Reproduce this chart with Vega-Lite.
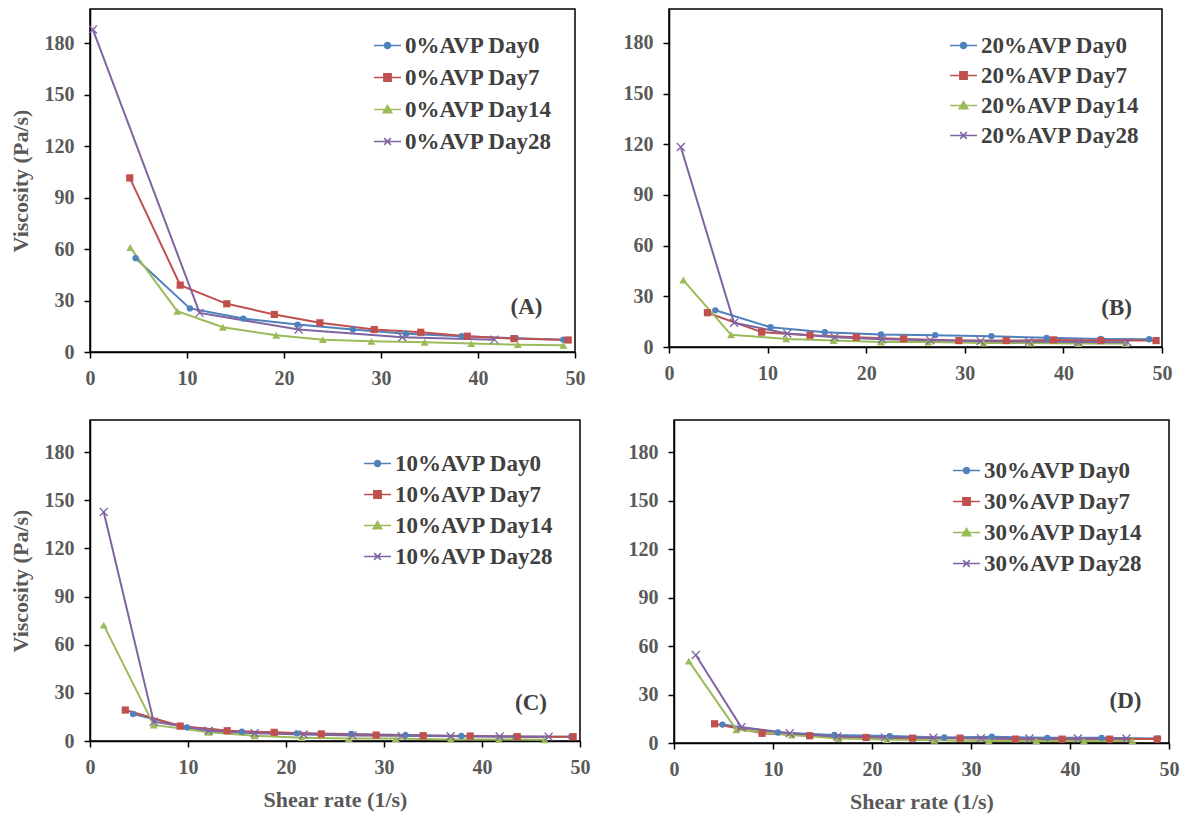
{
  "$schema": "https://vega.github.io/schema/vega-lite/v6.json",
  "background": "white",
  "padding": {"left": 8, "top": 8, "right": 0, "bottom": 0},
  "config": {
    "font": "Liberation Serif",
    "view": {"stroke": "black", "strokeWidth": 1.5},
    "axis": {
      "grid": false,
      "labelFont": "Liberation Serif", "labelFontSize": 20, "labelFontWeight": "bold", "labelColor": "#595959",
      "titleFont": "Liberation Serif", "titleFontSize": 22, "titleFontWeight": "bold", "titleColor": "#595959",
      "domainColor": "black", "domainWidth": 1.5, "tickColor": "black", "tickWidth": 1.5, "tickSize": 6,
      "labelFlush": false, "labelPadding": 10, "titlePadding": 12
    },
    "legend": {
      "orient": "top-right", "offset": 22, "padding": 0, "title": null,
      "labelFont": "Liberation Serif", "labelFontSize": 23, "labelFontWeight": "bold", "labelColor": "#404040",
      "symbolSize": 729, "rowPadding": 5, "labelOffset": 3
    }
  },
  "spacing": 30,
  "resolve": {"scale": {"color": "independent", "shape": "independent", "size": "independent"}, "legend": {"color": "independent"}},
  "vconcat": [
    {
      "spacing": 36,
      "resolve": {"scale": {"color": "independent", "shape": "independent", "size": "independent"}, "legend": {"color": "independent"}},
      "hconcat": [
        {
          "width": 485, "height": 343,
          "data": {"values": [
            {"d": "Day0", "x": 4.7, "y": 54.7}, {"d": "Day0", "x": 10.3, "y": 25.4}, {"d": "Day0", "x": 15.8, "y": 19.5}, {"d": "Day0", "x": 21.4, "y": 16.0}, {"d": "Day0", "x": 27.1, "y": 13.1}, {"d": "Day0", "x": 32.6, "y": 10.7}, {"d": "Day0", "x": 38.3, "y": 9.2}, {"d": "Day0", "x": 43.9, "y": 8.0}, {"d": "Day0", "x": 48.8, "y": 7.2},
            {"d": "Day7", "x": 4.1, "y": 101.5}, {"d": "Day7", "x": 9.3, "y": 39.0}, {"d": "Day7", "x": 14.1, "y": 28.1}, {"d": "Day7", "x": 19.0, "y": 21.9}, {"d": "Day7", "x": 23.7, "y": 17.0}, {"d": "Day7", "x": 29.3, "y": 13.1}, {"d": "Day7", "x": 34.1, "y": 11.5}, {"d": "Day7", "x": 38.9, "y": 9.2}, {"d": "Day7", "x": 43.7, "y": 7.8}, {"d": "Day7", "x": 49.3, "y": 7.0},
            {"d": "Day14", "x": 4.15, "y": 60.9}, {"d": "Day14", "x": 9.0, "y": 23.8}, {"d": "Day14", "x": 13.7, "y": 14.4}, {"d": "Day14", "x": 19.2, "y": 9.8}, {"d": "Day14", "x": 24.0, "y": 7.2}, {"d": "Day14", "x": 29.0, "y": 6.2}, {"d": "Day14", "x": 34.5, "y": 5.7}, {"d": "Day14", "x": 39.3, "y": 4.9}, {"d": "Day14", "x": 44.1, "y": 4.3}, {"d": "Day14", "x": 48.8, "y": 3.9},
            {"d": "Day28", "x": 0.3, "y": 188}, {"d": "Day28", "x": 11.3, "y": 22.8}, {"d": "Day28", "x": 21.5, "y": 13.1}, {"d": "Day28", "x": 32.2, "y": 8.6}, {"d": "Day28", "x": 41.7, "y": 7.2}
          ]},
          "encoding": {
            "x": {"field": "x", "type": "quantitative", "scale": {"domain": [0, 50], "nice": false}, "axis": {"values": [0, 10, 20, 30, 40, 50], "title": null}},
            "y": {"field": "y", "type": "quantitative", "scale": {"domain": [0, 200], "nice": false}, "axis": {"values": [0, 30, 60, 90, 120, 150, 180], "title": "Viscosity (Pa/s)", "titlePadding": 12}}
          },
          "layer": [
            {"mark": {"type": "line", "strokeWidth": 2, "clip": true},
             "encoding": {"color": {"field": "d", "type": "nominal", "scale": {"domain": ["Day0", "Day7", "Day14", "Day28"], "range": ["#4F81BD", "#C0504D", "#9BBB59", "#8064A2"]},
               "legend": {"labelExpr": "'0%AVP ' + datum.label", "rowPadding": 5, "encode": {"symbols": {"update": {
                 "shape": {"signal": "['M-1,0H1M-0.22,0A0.22,0.22 0 1 1 0.22,0A0.22,0.22 0 1 1 -0.22,0Z','M-1,0H1M-0.27,-0.27H0.27V0.27H-0.27Z','M-1,0H1M0,-0.3L0.32,0.24H-0.32Z','M-1,0H1M-0.25,-0.25L0.25,0.25M-0.25,0.25L0.25,-0.25'][datum.index]"},
                 "fill": {"signal": "['#4F81BD','#C0504D','#9BBB59','transparent'][datum.index]"},
                 "stroke": {"signal": "['#4F81BD','#C0504D','#9BBB59','#8064A2'][datum.index]"},
                 "strokeWidth": {"value": 1.5}, "size": {"value": 729}, "opacity": {"value": 1}}}}}}}},
            {"transform": [{"filter": "datum.d != 'Day28'"}],
             "mark": {"type": "point", "filled": true, "opacity": 1},
             "encoding": {"color": {"field": "d", "type": "nominal"},
               "shape": {"field": "d", "type": "nominal", "scale": {"domain": ["Day0", "Day7", "Day14"], "range": ["circle", "square", "triangle-up"]}, "legend": null},
               "size": {"field": "d", "type": "ordinal", "scale": {"domain": ["Day0", "Day7", "Day14"], "range": [40, 64, 70]}, "legend": null}}},
            {"transform": [{"filter": "datum.d == 'Day28'"}],
             "mark": {"type": "point", "shape": "M-1,-1L1,1M-1,1L1,-1", "filled": false, "strokeWidth": 1.3, "size": 64, "opacity": 1},
             "encoding": {"color": {"field": "d", "type": "nominal"}}},
            {"data": {"values": [{"x": 45, "y": 26, "t": "(A)"}]},
             "mark": {"type": "text", "font": "Liberation Serif", "fontSize": 23, "fontWeight": "bold", "color": "#404040"},
             "encoding": {"text": {"field": "t"}}}
          ]
        },
        {
          "width": 493, "height": 338,
          "data": {"values": [
            {"d": "Day0", "x": 4.7, "y": 21.7}, {"d": "Day0", "x": 10.3, "y": 11.7}, {"d": "Day0", "x": 15.8, "y": 8.8}, {"d": "Day0", "x": 21.5, "y": 7.4}, {"d": "Day0", "x": 27.0, "y": 7.0}, {"d": "Day0", "x": 32.7, "y": 6.4}, {"d": "Day0", "x": 38.3, "y": 5.4}, {"d": "Day0", "x": 43.8, "y": 4.8}, {"d": "Day0", "x": 48.7, "y": 4.6},
            {"d": "Day7", "x": 3.9, "y": 20.3}, {"d": "Day7", "x": 9.4, "y": 8.8}, {"d": "Day7", "x": 14.3, "y": 7.0}, {"d": "Day7", "x": 19.0, "y": 5.8}, {"d": "Day7", "x": 23.8, "y": 4.8}, {"d": "Day7", "x": 29.4, "y": 3.8}, {"d": "Day7", "x": 34.2, "y": 3.8}, {"d": "Day7", "x": 39.0, "y": 4.2}, {"d": "Day7", "x": 43.8, "y": 3.8}, {"d": "Day7", "x": 49.4, "y": 3.8},
            {"d": "Day14", "x": 1.45, "y": 39.6}, {"d": "Day14", "x": 6.3, "y": 7.2}, {"d": "Day14", "x": 11.9, "y": 4.8}, {"d": "Day14", "x": 16.7, "y": 3.8}, {"d": "Day14", "x": 21.5, "y": 3.0}, {"d": "Day14", "x": 26.3, "y": 3.0}, {"d": "Day14", "x": 31.9, "y": 2.4}, {"d": "Day14", "x": 36.7, "y": 2.4}, {"d": "Day14", "x": 41.5, "y": 2.0}, {"d": "Day14", "x": 46.3, "y": 2.0},
            {"d": "Day28", "x": 1.2, "y": 118.3}, {"d": "Day28", "x": 6.6, "y": 14.3}, {"d": "Day28", "x": 12.0, "y": 8.0}, {"d": "Day28", "x": 16.8, "y": 5.8}, {"d": "Day28", "x": 21.6, "y": 4.6}, {"d": "Day28", "x": 26.5, "y": 4.0}, {"d": "Day28", "x": 31.6, "y": 3.5}, {"d": "Day28", "x": 36.5, "y": 3.2}, {"d": "Day28", "x": 41.5, "y": 3.0}, {"d": "Day28", "x": 46.5, "y": 2.8}
          ]},
          "encoding": {
            "x": {"field": "x", "type": "quantitative", "scale": {"domain": [0, 50], "nice": false}, "axis": {"values": [0, 10, 20, 30, 40, 50], "title": null}},
            "y": {"field": "y", "type": "quantitative", "scale": {"domain": [0, 200], "nice": false}, "axis": {"values": [0, 30, 60, 90, 120, 150, 180], "title": null}}
          },
          "layer": [
            {"mark": {"type": "line", "strokeWidth": 2, "clip": true},
             "encoding": {"color": {"field": "d", "type": "nominal", "scale": {"domain": ["Day0", "Day7", "Day14", "Day28"], "range": ["#4F81BD", "#C0504D", "#9BBB59", "#8064A2"]},
               "legend": {"labelExpr": "'20%AVP ' + datum.label", "rowPadding": 3, "encode": {"symbols": {"update": {
                 "shape": {"signal": "['M-1,0H1M-0.22,0A0.22,0.22 0 1 1 0.22,0A0.22,0.22 0 1 1 -0.22,0Z','M-1,0H1M-0.27,-0.27H0.27V0.27H-0.27Z','M-1,0H1M0,-0.3L0.32,0.24H-0.32Z','M-1,0H1M-0.25,-0.25L0.25,0.25M-0.25,0.25L0.25,-0.25'][datum.index]"},
                 "fill": {"signal": "['#4F81BD','#C0504D','#9BBB59','transparent'][datum.index]"},
                 "stroke": {"signal": "['#4F81BD','#C0504D','#9BBB59','#8064A2'][datum.index]"},
                 "strokeWidth": {"value": 1.5}, "size": {"value": 729}, "opacity": {"value": 1}}}}}}}},
            {"transform": [{"filter": "datum.d != 'Day28'"}],
             "mark": {"type": "point", "filled": true, "opacity": 1},
             "encoding": {"color": {"field": "d", "type": "nominal"},
               "shape": {"field": "d", "type": "nominal", "scale": {"domain": ["Day0", "Day7", "Day14"], "range": ["circle", "square", "triangle-up"]}, "legend": null},
               "size": {"field": "d", "type": "ordinal", "scale": {"domain": ["Day0", "Day7", "Day14"], "range": [40, 64, 70]}, "legend": null}}},
            {"transform": [{"filter": "datum.d == 'Day28'"}],
             "mark": {"type": "point", "shape": "M-1,-1L1,1M-1,1L1,-1", "filled": false, "strokeWidth": 1.3, "size": 64, "opacity": 1},
             "encoding": {"color": {"field": "d", "type": "nominal"}}},
            {"data": {"values": [{"x": 45.4, "y": 23.3, "t": "(B)"}]},
             "mark": {"type": "text", "font": "Liberation Serif", "fontSize": 23, "fontWeight": "bold", "color": "#404040"},
             "encoding": {"text": {"field": "t"}}}
          ]
        }
      ]
    },
    {
      "spacing": 36,
      "resolve": {"scale": {"color": "independent", "shape": "independent", "size": "independent"}, "legend": {"color": "independent"}},
      "hconcat": [
        {
          "width": 490, "height": 321,
          "data": {"values": [
            {"d": "Day0", "x": 4.4, "y": 16.8}, {"d": "Day0", "x": 9.9, "y": 8.5}, {"d": "Day0", "x": 15.5, "y": 5.8}, {"d": "Day0", "x": 21.1, "y": 4.8}, {"d": "Day0", "x": 26.7, "y": 4.4}, {"d": "Day0", "x": 32.2, "y": 3.7}, {"d": "Day0", "x": 37.9, "y": 3.1}, {"d": "Day0", "x": 43.4, "y": 2.7}, {"d": "Day0", "x": 49.1, "y": 2.7},
            {"d": "Day7", "x": 3.6, "y": 19.3}, {"d": "Day7", "x": 9.2, "y": 9.3}, {"d": "Day7", "x": 14.0, "y": 6.4}, {"d": "Day7", "x": 18.8, "y": 5.4}, {"d": "Day7", "x": 23.6, "y": 4.4}, {"d": "Day7", "x": 29.2, "y": 3.7}, {"d": "Day7", "x": 34.0, "y": 3.3}, {"d": "Day7", "x": 38.8, "y": 3.1}, {"d": "Day7", "x": 43.6, "y": 2.7}, {"d": "Day7", "x": 49.3, "y": 2.7},
            {"d": "Day14", "x": 1.4, "y": 72.2}, {"d": "Day14", "x": 6.5, "y": 10.0}, {"d": "Day14", "x": 12.1, "y": 5.4}, {"d": "Day14", "x": 16.8, "y": 3.3}, {"d": "Day14", "x": 21.6, "y": 2.1}, {"d": "Day14", "x": 26.4, "y": 1.5}, {"d": "Day14", "x": 31.2, "y": 1.5}, {"d": "Day14", "x": 36.8, "y": 1.0}, {"d": "Day14", "x": 41.7, "y": 1.0}, {"d": "Day14", "x": 46.4, "y": 0.8},
            {"d": "Day28", "x": 1.4, "y": 142.7}, {"d": "Day28", "x": 6.5, "y": 12.0}, {"d": "Day28", "x": 12.1, "y": 6.4}, {"d": "Day28", "x": 16.8, "y": 4.8}, {"d": "Day28", "x": 21.8, "y": 4.0}, {"d": "Day28", "x": 26.8, "y": 3.5}, {"d": "Day28", "x": 31.8, "y": 3.2}, {"d": "Day28", "x": 36.8, "y": 3.0}, {"d": "Day28", "x": 41.8, "y": 2.8}, {"d": "Day28", "x": 46.8, "y": 2.6}
          ]},
          "encoding": {
            "x": {"field": "x", "type": "quantitative", "scale": {"domain": [0, 50], "nice": false}, "axis": {"values": [0, 10, 20, 30, 40, 50], "title": "Shear rate (1/s)", "titlePadding": 12}},
            "y": {"field": "y", "type": "quantitative", "scale": {"domain": [0, 200], "nice": false}, "axis": {"values": [0, 30, 60, 90, 120, 150, 180], "title": "Viscosity (Pa/s)", "titlePadding": 12}}
          },
          "layer": [
            {"mark": {"type": "line", "strokeWidth": 2, "clip": true},
             "encoding": {"color": {"field": "d", "type": "nominal", "scale": {"domain": ["Day0", "Day7", "Day14", "Day28"], "range": ["#4F81BD", "#C0504D", "#9BBB59", "#8064A2"]},
               "legend": {"labelExpr": "'10%AVP ' + datum.label", "orient": "none", "legendX": 273, "legendY": 29, "rowPadding": 4, "encode": {"symbols": {"update": {
                 "shape": {"signal": "['M-1,0H1M-0.22,0A0.22,0.22 0 1 1 0.22,0A0.22,0.22 0 1 1 -0.22,0Z','M-1,0H1M-0.27,-0.27H0.27V0.27H-0.27Z','M-1,0H1M0,-0.3L0.32,0.24H-0.32Z','M-1,0H1M-0.25,-0.25L0.25,0.25M-0.25,0.25L0.25,-0.25'][datum.index]"},
                 "fill": {"signal": "['#4F81BD','#C0504D','#9BBB59','transparent'][datum.index]"},
                 "stroke": {"signal": "['#4F81BD','#C0504D','#9BBB59','#8064A2'][datum.index]"},
                 "strokeWidth": {"value": 1.5}, "size": {"value": 729}, "opacity": {"value": 1}}}}}}}},
            {"transform": [{"filter": "datum.d != 'Day28'"}],
             "mark": {"type": "point", "filled": true, "opacity": 1},
             "encoding": {"color": {"field": "d", "type": "nominal"},
               "shape": {"field": "d", "type": "nominal", "scale": {"domain": ["Day0", "Day7", "Day14"], "range": ["circle", "square", "triangle-up"]}, "legend": null},
               "size": {"field": "d", "type": "ordinal", "scale": {"domain": ["Day0", "Day7", "Day14"], "range": [40, 64, 70]}, "legend": null}}},
            {"transform": [{"filter": "datum.d == 'Day28'"}],
             "mark": {"type": "point", "shape": "M-1,-1L1,1M-1,1L1,-1", "filled": false, "strokeWidth": 1.3, "size": 64, "opacity": 1},
             "encoding": {"color": {"field": "d", "type": "nominal"}}},
            {"data": {"values": [{"x": 45, "y": 23.4, "t": "(C)"}]},
             "mark": {"type": "text", "font": "Liberation Serif", "fontSize": 23, "fontWeight": "bold", "color": "#404040"},
             "encoding": {"text": {"field": "t"}}}
          ]
        },
        {
          "width": 495, "height": 323,
          "data": {"values": [
            {"d": "Day0", "x": 4.9, "y": 11.4}, {"d": "Day0", "x": 10.5, "y": 6.5}, {"d": "Day0", "x": 16.2, "y": 5.0}, {"d": "Day0", "x": 21.8, "y": 4.3}, {"d": "Day0", "x": 27.3, "y": 3.4}, {"d": "Day0", "x": 32.1, "y": 3.9}, {"d": "Day0", "x": 37.7, "y": 3.2}, {"d": "Day0", "x": 43.2, "y": 3.2}, {"d": "Day0", "x": 48.9, "y": 2.8},
            {"d": "Day7", "x": 4.1, "y": 11.9}, {"d": "Day7", "x": 8.9, "y": 6.0}, {"d": "Day7", "x": 13.7, "y": 4.5}, {"d": "Day7", "x": 19.4, "y": 3.4}, {"d": "Day7", "x": 24.1, "y": 3.0}, {"d": "Day7", "x": 28.9, "y": 3.0}, {"d": "Day7", "x": 34.5, "y": 2.4}, {"d": "Day7", "x": 39.2, "y": 2.4}, {"d": "Day7", "x": 44.0, "y": 2.4}, {"d": "Day7", "x": 48.8, "y": 2.4},
            {"d": "Day14", "x": 1.5, "y": 50.7}, {"d": "Day14", "x": 6.3, "y": 8.2}, {"d": "Day14", "x": 11.9, "y": 5.0}, {"d": "Day14", "x": 16.6, "y": 2.8}, {"d": "Day14", "x": 21.5, "y": 2.2}, {"d": "Day14", "x": 26.3, "y": 1.7}, {"d": "Day14", "x": 31.8, "y": 1.3}, {"d": "Day14", "x": 36.6, "y": 1.3}, {"d": "Day14", "x": 41.4, "y": 1.3}, {"d": "Day14", "x": 46.3, "y": 1.3},
            {"d": "Day28", "x": 2.2, "y": 54.5}, {"d": "Day28", "x": 6.8, "y": 9.7}, {"d": "Day28", "x": 11.7, "y": 6.0}, {"d": "Day28", "x": 16.5, "y": 4.0}, {"d": "Day28", "x": 21.3, "y": 3.5}, {"d": "Day28", "x": 26.2, "y": 3.2}, {"d": "Day28", "x": 31.0, "y": 3.0}, {"d": "Day28", "x": 35.9, "y": 2.8}, {"d": "Day28", "x": 40.8, "y": 2.8}, {"d": "Day28", "x": 45.7, "y": 2.8}
          ]},
          "encoding": {
            "x": {"field": "x", "type": "quantitative", "scale": {"domain": [0, 50], "nice": false}, "axis": {"values": [0, 10, 20, 30, 40, 50], "title": "Shear rate (1/s)", "titlePadding": 12}},
            "y": {"field": "y", "type": "quantitative", "scale": {"domain": [0, 200], "nice": false}, "axis": {"values": [0, 30, 60, 90, 120, 150, 180], "title": null}}
          },
          "layer": [
            {"mark": {"type": "line", "strokeWidth": 2, "clip": true},
             "encoding": {"color": {"field": "d", "type": "nominal", "scale": {"domain": ["Day0", "Day7", "Day14", "Day28"], "range": ["#4F81BD", "#C0504D", "#9BBB59", "#8064A2"]},
               "legend": {"labelExpr": "'30%AVP ' + datum.label", "orient": "none", "legendX": 278, "legendY": 36, "rowPadding": 4, "encode": {"symbols": {"update": {
                 "shape": {"signal": "['M-1,0H1M-0.22,0A0.22,0.22 0 1 1 0.22,0A0.22,0.22 0 1 1 -0.22,0Z','M-1,0H1M-0.27,-0.27H0.27V0.27H-0.27Z','M-1,0H1M0,-0.3L0.32,0.24H-0.32Z','M-1,0H1M-0.25,-0.25L0.25,0.25M-0.25,0.25L0.25,-0.25'][datum.index]"},
                 "fill": {"signal": "['#4F81BD','#C0504D','#9BBB59','transparent'][datum.index]"},
                 "stroke": {"signal": "['#4F81BD','#C0504D','#9BBB59','#8064A2'][datum.index]"},
                 "strokeWidth": {"value": 1.5}, "size": {"value": 729}, "opacity": {"value": 1}}}}}}}},
            {"transform": [{"filter": "datum.d != 'Day28'"}],
             "mark": {"type": "point", "filled": true, "opacity": 1},
             "encoding": {"color": {"field": "d", "type": "nominal"},
               "shape": {"field": "d", "type": "nominal", "scale": {"domain": ["Day0", "Day7", "Day14"], "range": ["circle", "square", "triangle-up"]}, "legend": null},
               "size": {"field": "d", "type": "ordinal", "scale": {"domain": ["Day0", "Day7", "Day14"], "range": [40, 64, 70]}, "legend": null}}},
            {"transform": [{"filter": "datum.d == 'Day28'"}],
             "mark": {"type": "point", "shape": "M-1,-1L1,1M-1,1L1,-1", "filled": false, "strokeWidth": 1.3, "size": 64, "opacity": 1},
             "encoding": {"color": {"field": "d", "type": "nominal"}}},
            {"data": {"values": [{"x": 45.6, "y": 25.9, "t": "(D)"}]},
             "mark": {"type": "text", "font": "Liberation Serif", "fontSize": 23, "fontWeight": "bold", "color": "#404040"},
             "encoding": {"text": {"field": "t"}}}
          ]
        }
      ]
    }
  ]
}
